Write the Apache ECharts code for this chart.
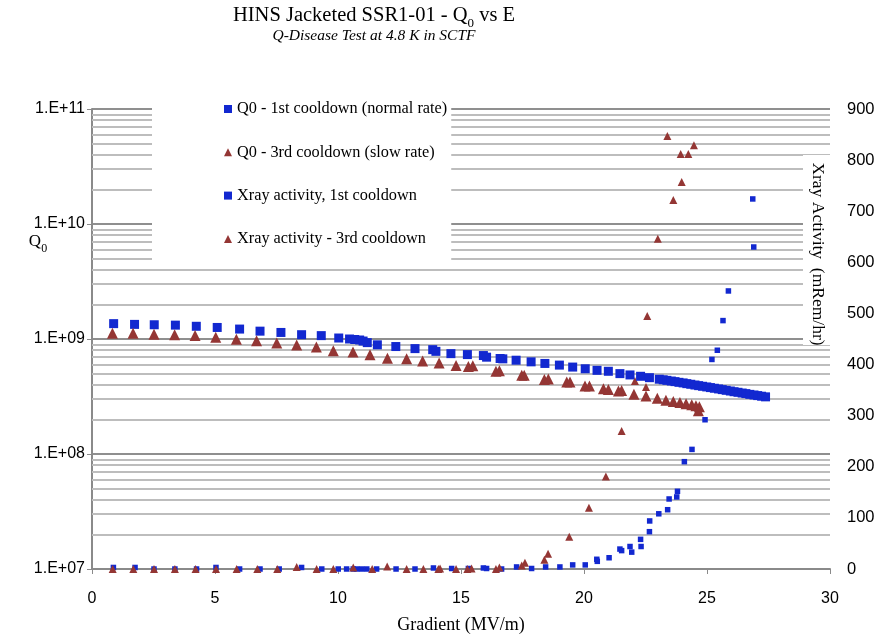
<!DOCTYPE html>
<html>
<head>
<meta charset="utf-8">
<script src="https://cdn.jsdelivr.net/npm/echarts@6/dist/echarts.min.js"></script>
<style>
  html, body { margin: 0; padding: 0; background: #ffffff; }
  #chart { width: 889px; height: 639px; }
</style>
</head>
<body>
<div id="chart"></div>
<script>
// ---- Q0 vs gradient, 1st cooldown (normal rate) ----
const q0FirstGradient = [0.88, 1.73, 2.53, 3.39, 4.24, 5.09, 6.00, 6.83, 7.68, 8.52, 9.32, 10.03, 10.47, 10.68, 10.88, 11.02, 11.19, 11.60, 12.35, 13.13, 13.85, 13.98, 14.59, 15.26, 15.91, 16.04, 16.59, 16.70, 17.24, 17.85, 18.41, 19.00, 19.54, 20.05, 20.53, 20.99, 21.46, 21.87, 22.30, 22.66, 23.06, 23.22, 23.37, 23.55, 23.70, 23.86, 24.03, 24.18, 24.34, 24.51, 24.66, 24.82, 24.99, 25.14, 25.30, 25.47, 25.62, 25.78, 25.95, 26.10, 26.26, 26.43, 26.58, 26.74, 26.91, 27.06, 27.22, 27.38];
const q0FirstValue = [1.36e9, 1.34e9, 1.33e9, 1.32e9, 1.29e9, 1.26e9, 1.22e9, 1.17e9, 1.14e9, 1.09e9, 1.07e9, 1.02e9, 1.00e9, 0.99e9, 0.98e9, 0.96e9, 0.93e9, 0.89e9, 0.86e9, 0.825e9, 0.808e9, 0.781e9, 0.746e9, 0.732e9, 0.718e9, 0.695e9, 0.677e9, 0.672e9, 0.654e9, 0.633e9, 0.613e9, 0.593e9, 0.570e9, 0.551e9, 0.534e9, 0.524e9, 0.500e9, 0.487e9, 0.474e9, 0.461e9, 0.447e9, 0.442e9, 0.437e9, 0.431e9, 0.426e9, 0.420e9, 0.415e9, 0.409e9, 0.404e9, 0.398e9, 0.393e9, 0.388e9, 0.383e9, 0.378e9, 0.373e9, 0.368e9, 0.363e9, 0.358e9, 0.353e9, 0.348e9, 0.344e9, 0.339e9, 0.335e9, 0.330e9, 0.326e9, 0.322e9, 0.318e9, 0.314e9];

// ---- Q0 vs gradient, 3rd cooldown (slow rate) ----
const q0ThirdGradient = [0.83, 1.67, 2.52, 3.36, 4.19, 5.03, 5.87, 6.69, 7.51, 8.32, 9.12, 9.81, 10.61, 11.30, 12.01, 12.79, 13.44, 14.11, 14.80, 15.30, 15.48, 16.42, 16.56, 17.47, 17.57, 18.39, 18.55, 19.30, 19.43, 20.04, 20.22, 20.79, 20.99, 21.40, 21.53, 22.03, 22.52, 22.98, 23.33, 23.63, 23.90, 24.15, 24.38, 24.55, 24.69, 24.65];
const q0ThirdValue = [1.12e9, 1.12e9, 1.10e9, 1.09e9, 1.07e9, 1.035e9, 0.995e9, 0.966e9, 0.921e9, 0.885e9, 0.851e9, 0.792e9, 0.771e9, 0.730e9, 0.681e9, 0.672e9, 0.645e9, 0.617e9, 0.589e9, 0.578e9, 0.584e9, 0.524e9, 0.530e9, 0.484e9, 0.484e9, 0.444e9, 0.450e9, 0.422e9, 0.422e9, 0.390e9, 0.390e9, 0.369e9, 0.364e9, 0.353e9, 0.357e9, 0.330e9, 0.320e9, 0.305e9, 0.293e9, 0.286e9, 0.280e9, 0.273e9, 0.268e9, 0.263e9, 0.258e9, 0.238e9];

// ---- X-ray activity (mRem/hr), 1st cooldown ----
const xrayFirstGradient = [0.87, 1.75, 2.52, 3.37, 4.25, 5.04, 6.00, 6.83, 7.61, 8.52, 9.34, 10.01, 10.35, 10.62, 10.76, 10.96, 11.17, 11.57, 12.36, 13.13, 13.88, 14.62, 15.30, 15.91, 16.04, 16.65, 17.26, 17.87, 18.44, 19.02, 19.54, 20.05, 20.52, 20.54, 21.02, 21.46, 21.53, 21.87, 21.94, 22.30, 22.32, 22.66, 22.67, 23.04, 23.40, 23.46, 23.77, 23.80, 24.08, 24.39, 24.92, 25.20, 25.42, 25.65, 25.87, 26.86, 26.90];
const xrayFirstValue = [3, 3, 0, 0, 0, 3, 0, 0, 0, 3, 0, 0, 0, 0, 0, 0, 0, 0, 0, 0, 2, 1, 1, 2, 1, 0, 4, 1, 4, 4, 8, 8, 19, 15, 22, 39, 36, 44, 33, 58, 44, 73, 94, 108, 116, 137, 141, 152, 210, 234, 292, 410, 428, 486, 544, 724, 630];

// ---- X-ray activity (mRem/hr), 3rd cooldown ----
const xrayThirdGradient = [0.84, 1.68, 2.52, 3.37, 4.21, 5.04, 5.88, 6.72, 7.53, 8.32, 9.13, 9.81, 10.62, 11.39, 12.00, 12.79, 13.47, 14.08, 14.15, 14.80, 15.26, 15.43, 16.42, 16.56, 17.47, 17.60, 18.39, 18.54, 19.40, 20.20, 20.89, 21.53, 22.07, 22.52, 22.57, 23.00, 23.39, 23.63, 23.93, 23.97, 24.24, 24.47];
const xrayThirdValue = [0, 0, 0, 0, 0, 0, 0, 0, 0, 4, 0, 0, 3, 0, 5, 0, 0, 0, 1, 0, 0, 1, 0, 3, 7, 12, 18, 30, 63, 120, 181, 270, 368, 356, 495, 646, 847, 722, 812, 757, 812, 829];

// ---- axis ticks ----
const gradientTicks = [0, 5, 10, 15, 20, 25, 30];
const xrayTicks = [0, 100, 200, 300, 400, 500, 600, 700, 800, 900];
const q0Decades = [7, 8, 9, 10, 11];
const q0TickLabels = ['1.E+07', '1.E+08', '1.E+09', '1.E+10', '1.E+11'];

const seriesNames = [
  'Q0 - 1st cooldown (normal rate)',
  'Q0 - 3rd cooldown (slow rate)',
  'Xray activity, 1st cooldown',
  'Xray activity - 3rd cooldown'
];

const BLUE = '#1228d0';
const RED = '#943634';
const SERIF = '"Liberation Serif", "Times New Roman", serif';
const SANS = '"Liberation Sans", Arial, sans-serif';

function zip(xs, ys) { return xs.map((x, i) => [x, ys[i]]); }

// minor log gridlines: 2..9 within each decade
const minorGrid = [];
for (let d = q0Decades[0]; d < q0Decades[q0Decades.length - 1]; d++) {
  for (let m = 2; m <= 9; m++) minorGrid.push({ yAxis: m * Math.pow(10, d) });
}

const chart = echarts.init(document.getElementById('chart'), null, { renderer: 'canvas' });

chart.setOption({
  animation: false,
  backgroundColor: '#ffffff',
  grid: { left: 92, right: 59, top: 109, bottom: 63, containLabel: false },
  legend: {
    orient: 'vertical',
    left: 152,
    top: 98,
    padding: [2, 4, 20, 72],
    backgroundColor: '#ffffff',
    itemGap: 25.3,
    itemWidth: 8,
    itemHeight: 8,
    z: 20,
    textStyle: { fontFamily: SERIF, fontSize: 16.3, color: '#000', lineHeight: 18 },
    data: [
      { name: seriesNames[0], icon: 'rect' },
      { name: seriesNames[1], icon: 'triangle' },
      { name: seriesNames[2], icon: 'rect' },
      { name: seriesNames[3], icon: 'triangle' }
    ]
  },
  xAxis: {
    type: 'value',
    min: gradientTicks[0],
    max: gradientTicks[gradientTicks.length - 1],
    interval: gradientTicks[1] - gradientTicks[0],
    name: 'Gradient (MV/m)',
    nameLocation: 'middle',
    nameGap: 47,
    nameTextStyle: { fontFamily: SERIF, fontSize: 18, color: '#000' },
    axisLine: { show: true, onZero: false, lineStyle: { color: '#8a8a8a', width: 2 } },
    axisTick: { show: true, length: 5, lineStyle: { color: '#8a8a8a', width: 1 } },
    axisLabel: { fontFamily: SANS, fontSize: 16, color: '#000', margin: 22 },
    splitLine: { show: false }
  },
  yAxis: [
    {
      type: 'log',
      logBase: 10,
      min: Math.pow(10, q0Decades[0]),
      max: Math.pow(10, q0Decades[q0Decades.length - 1]),
      position: 'left',
      axisLine: { show: true, lineStyle: { color: '#8a8a8a', width: 2 } },
      axisTick: { show: true, length: 5, lineStyle: { color: '#8a8a8a', width: 1 } },
      axisLabel: {
        fontFamily: SANS, fontSize: 16, color: '#000', margin: 7,
        formatter: v => q0TickLabels[q0Decades.indexOf(Math.round(Math.log10(v)))] || ''
      },
      splitLine: { show: true, lineStyle: { color: '#8f8f8f', width: 2 } }
    },
    {
      type: 'value',
      min: xrayTicks[0],
      max: xrayTicks[xrayTicks.length - 1],
      interval: xrayTicks[1] - xrayTicks[0],
      position: 'right',
      axisLine: { show: false },
      axisTick: { show: false },
      axisLabel: { fontFamily: SANS, fontSize: 16.5, color: '#000', margin: 17 },
      splitLine: { show: false }
    }
  ],
  series: [
    {
      name: 'minor-grid',
      type: 'line',
      data: [],
      yAxisIndex: 0,
      z: 1,
      silent: true,
      markLine: {
        z: 1,
        silent: true,
        symbol: 'none',
        animation: false,
        label: { show: false },
        lineStyle: { color: '#bdbdbd', width: 2, type: 'solid' },
        data: minorGrid
      }
    },
    {
      name: seriesNames[2],
      type: 'scatter',
      yAxisIndex: 1,
      symbol: 'rect',
      symbolSize: 5.5,
      z: 6,
      itemStyle: { color: BLUE, opacity: 1 },
      data: zip(xrayFirstGradient, xrayFirstValue)
    },
    {
      name: seriesNames[3],
      type: 'scatter',
      yAxisIndex: 1,
      symbol: 'triangle',
      symbolSize: 8,
      z: 6,
      itemStyle: { color: RED, opacity: 1 },
      data: zip(xrayThirdGradient, xrayThirdValue)
    },
    {
      name: seriesNames[0],
      type: 'scatter',
      yAxisIndex: 0,
      symbol: 'rect',
      symbolSize: 9,
      z: 7,
      itemStyle: { color: BLUE, opacity: 1 },
      data: zip(q0FirstGradient, q0FirstValue)
    },
    {
      name: seriesNames[1],
      type: 'scatter',
      yAxisIndex: 0,
      symbol: 'triangle',
      symbolSize: 11,
      z: 7,
      itemStyle: { color: RED, opacity: 1 },
      data: zip(q0ThirdGradient, q0ThirdValue)
    }
  ],
  graphic: [
    {
      type: 'text', x: 374, y: 16, z: 30,
      style: {
        text: 'HINS Jacketed SSR1-01 - Q{s|0} vs E',
        font: '20.5px ' + SERIF, fill: '#000', align: 'center', verticalAlign: 'middle',
        rich: { s: { fontFamily: SERIF, fontSize: 13, verticalAlign: 'bottom', lineHeight: 28 } }
      }
    },
    {
      type: 'text', x: 374, y: 36, z: 30,
      style: {
        text: 'Q-Disease Test at 4.8 K in SCTF',
        font: 'italic 15.5px ' + SERIF, fill: '#000', align: 'center', verticalAlign: 'middle'
      }
    },
    {
      type: 'text', x: 38, y: 242, z: 30,
      style: {
        text: 'Q{s|0}',
        font: '17px ' + SERIF, fill: '#000', align: 'center', verticalAlign: 'middle',
        rich: { s: { fontFamily: SERIF, fontSize: 12, verticalAlign: 'bottom', lineHeight: 26 } }
      }
    },
    {
      type: 'rect', z: 25,
      shape: { x: 803, y: 155, width: 28, height: 190 },
      style: { fill: '#ffffff' }
    },
    {
      type: 'text', x: 818, y: 254, z: 30, rotation: -Math.PI / 2,
      style: {
        text: 'Xray Activity  (mRem/hr)',
        font: '17.5px ' + SERIF, fill: '#000', align: 'center', verticalAlign: 'middle'
      }
    }
  ]
});
</script>
</body>
</html>
